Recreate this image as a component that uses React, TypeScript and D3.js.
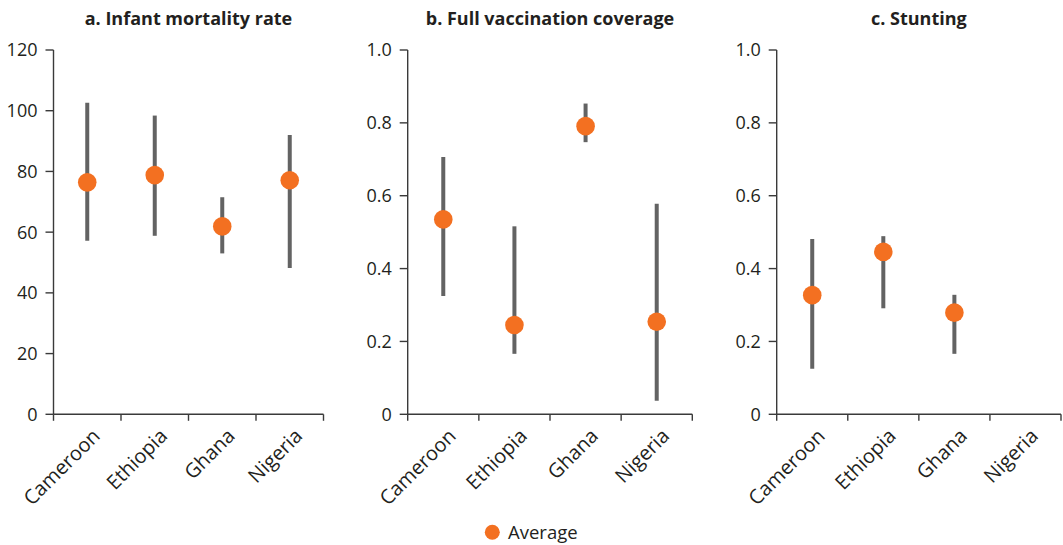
import React from "react";
import * as d3 from "d3";

const countries = ["Cameroon", "Ethiopia", "Ghana", "Nigeria"];

// Panel a: infant mortality rate
const imrLow = [57.2, 58.8, 53.0, 48.2];
const imrHigh = [102.6, 98.4, 71.5, 92.0];
const imrAvg = [76.4, 78.8, 61.9, 77.1];
const imrTicks = [0, 20, 40, 60, 80, 100, 120];

// Panel b: full vaccination coverage
const vacLow = [0.325, 0.166, 0.747, 0.037];
const vacHigh = [0.706, 0.516, 0.853, 0.578];
const vacAvg = [0.535, 0.245, 0.791, 0.254];
const shareTicks = [0, 0.2, 0.4, 0.6, 0.8, 1.0];

// Panel c: stunting (no Nigeria value)
const stuLow = [0.125, 0.291, 0.166, null];
const stuHigh = [0.481, 0.489, 0.328, null];
const stuAvg = [0.327, 0.446, 0.279, null];

const ORANGE = "#F37021";
const GREY = "#636363";
const AXIS = "#3a3a3a";
const FONT = "'Open Sans', 'Noto Sans', sans-serif";

type PanelProps = {
  title: string;
  left: number;
  right: number;
  low: (number | null)[];
  high: (number | null)[];
  avg: (number | null)[];
  ticks: number[];
  max: number;
  fmt: (v: number) => string;
};

const TOP = 50;
const BOTTOM = 414.3;

function Panel({ title, left, right, low, high, avg, ticks, max, fmt }: PanelProps) {
  const x = d3.scaleBand<string>().domain(countries).range([left, right]).padding(0);
  const y = d3.scaleLinear().domain([0, max]).range([BOTTOM, TOP]);
  const bw = x.bandwidth();
  const edges = countries.map((c) => x(c)!).concat([right]);
  return (
    <g>
      <text
        x={(left + right) / 2}
        y={25}
        textAnchor="middle"
        fontFamily={FONT}
        fontWeight={700}
        fontSize={18}
        fill="#231f20"
      >
        {title}
      </text>
      {/* y axis */}
      <line x1={left} x2={left} y1={TOP} y2={BOTTOM} stroke={AXIS} strokeWidth={1.4} />
      {ticks.map((t) => (
        <g key={t}>
          <line x1={left - 8} x2={left} y1={y(t)} y2={y(t)} stroke={AXIS} strokeWidth={1.4} />
          <text
            x={left - 16}
            y={y(t)}
            dy="0.36em"
            textAnchor="end"
            fontFamily={FONT}
            fontSize={18}
            fill="#231f20"
          >
            {fmt(t)}
          </text>
        </g>
      ))}
      {/* x axis */}
      <line x1={left} x2={right} y1={BOTTOM} y2={BOTTOM} stroke={AXIS} strokeWidth={1.4} />
      {edges.map((e, i) => (
        <line key={i} x1={e} x2={e} y1={BOTTOM} y2={BOTTOM + 6.5} stroke={AXIS} strokeWidth={1.4} />
      ))}
      {countries.map((c) => {
        const cx = x(c)! + bw / 2;
        return (
          <text
            key={c}
            transform={`translate(${cx + 4},${BOTTOM + 13}) rotate(-45)`}
            textAnchor="end"
            dy="0.7em"
            fontFamily={FONT}
            fontSize={20}
            fill="#231f20"
          >
            {c}
          </text>
        );
      })}
      {/* ranges and averages */}
      {countries.map((c, i) => {
        const lo = low[i];
        const hi = high[i];
        const av = avg[i];
        if (lo == null || hi == null || av == null) return null;
        const cx = x(c)! + bw / 2;
        return (
          <g key={c}>
            <line x1={cx} x2={cx} y1={y(lo)} y2={y(hi)} stroke={GREY} strokeWidth={4} />
            <circle cx={cx} cy={y(av)} r={9.3} fill={ORANGE} />
          </g>
        );
      })}
    </g>
  );
}

export default function App() {
  const fmtInt = (v: number) => d3.format("d")(v);
  const fmtShare = (v: number) => (v === 0 ? "0" : d3.format(".1f")(v));
  return (
    <div style={{ position: "absolute", left: 0, top: 0 }}>
      <svg width={1063} height={545} style={{ display: "block", background: "#fff" }}>
        <Panel
          title="a. Infant mortality rate"
          left={53.5}
          right={323.5}
          low={imrLow}
          high={imrHigh}
          avg={imrAvg}
          ticks={imrTicks}
          max={120}
          fmt={fmtInt}
        />
        <Panel
          title="b. Full vaccination coverage"
          left={407.7}
          right={692.3}
          low={vacLow}
          high={vacHigh}
          avg={vacAvg}
          ticks={shareTicks}
          max={1}
          fmt={fmtShare}
        />
        <Panel
          title="c. Stunting"
          left={776.7}
          right={1061}
          low={stuLow}
          high={stuHigh}
          avg={stuAvg}
          ticks={shareTicks}
          max={1}
          fmt={fmtShare}
        />
        {/* legend */}
        <circle cx={492.3} cy={532.3} r={7.5} fill={ORANGE} />
        <text x={508} y={538.5} fontFamily={FONT} fontSize={18.5} fill="#231f20">
          Average
        </text>
      </svg>
    </div>
  );
}
